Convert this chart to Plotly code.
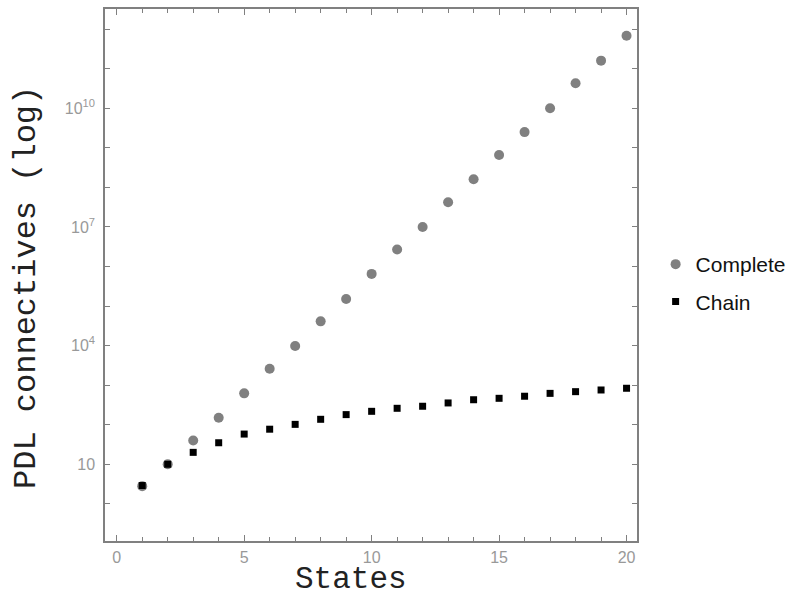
import plotly.graph_objects as go

states = list(range(1, 21))
complete = [2.8, 10, 40, 150, 620, 2600, 9800, 4.1e4, 1.5e5, 6.5e5,
            2.7e6, 1.0e7, 4.2e7, 1.6e8, 6.6e8, 2.5e9, 1.0e10, 4.3e10, 1.6e11, 6.8e11]
chain = [2.9, 10, 20, 35, 58, 77, 102, 137, 180, 218,
         260, 293, 355, 428, 465, 525, 620, 685, 755, 835]

y_tickvals = [10**k for k in range(0, 13)]
y_ticktext = ["", "10", "", "", "10<sup>4</sup>", "", "", "10<sup>7</sup>", "", "", "10<sup>10</sup>", "", ""]
x_tickvals = [0, 5, 10, 15, 20]

fig = go.Figure()
fig.add_trace(go.Scatter(x=states, y=complete, mode="markers", name="Complete",
                         legendgroup="a",
                         marker=dict(symbol="circle", size=10, color="#808080")))
fig.add_trace(go.Scatter(x=states, y=chain, mode="markers", name="Chain",
                         legendgroup="b",
                         marker=dict(symbol="square", size=7, color="#000000")))

tickfont = dict(family="Liberation Sans, Arial", size=16, color="#999999")
titlefont = dict(family="Liberation Mono, Courier New, monospace", size=32, color="#222222")
xtitlefont = dict(family="Liberation Mono, Courier New, monospace", size=31, color="#222222")

fig.update_layout(
    width=800, height=597,
    margin=dict(l=105, r=163, t=9, b=56),
    paper_bgcolor="white", plot_bgcolor="white",
    showlegend=True,
    legend=dict(x=1.035, y=0.485, xanchor="left", yanchor="middle",
                font=dict(family="Liberation Sans, Arial", size=21, color="#111111"),
                traceorder="grouped", tracegroupgap=7, itemwidth=30),
    xaxis=dict(range=[-0.46, 20.41], tickvals=x_tickvals, automargin=False,
               ticks="inside", ticklen=6, tickcolor="#808080", tickwidth=1,
               showline=True, linecolor="#808080", linewidth=1.5, mirror="ticks",
               showgrid=False, zeroline=False, tickfont=tickfont, ticklabelstandoff=1,
               minor=dict(dtick=1, ticks="inside", ticklen=4, tickcolor="#808080", showgrid=False)),
    yaxis=dict(type="log", range=[-0.94, 12.51], tickvals=y_tickvals, ticktext=y_ticktext,
               automargin=False,
               ticks="inside", ticklen=5, tickcolor="#808080", tickwidth=1,
               showline=True, linecolor="#808080", linewidth=1.5, mirror="ticks",
               showgrid=False, zeroline=False, tickfont=tickfont, ticklabelstandoff=5),
    annotations=[
        dict(text="States", font=xtitlefont, xref="paper", yref="paper",
             x=0.4624, y=-0.073, xanchor="center", yanchor="middle", showarrow=False),
        dict(text="PDL connectives (log)", font=titlefont, xref="paper", yref="paper",
             x=-0.1466, y=0.4756, xanchor="center", yanchor="middle", textangle=-90,
             showarrow=False),
    ],
)

fig.write_html("out.html", config={"displayModeBar": False},
               post_script="document.body.style.margin='0';document.body.style.padding='0';")
